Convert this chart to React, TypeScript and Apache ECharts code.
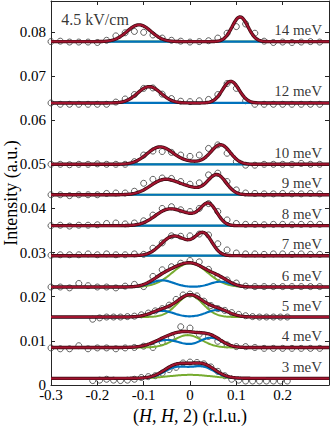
import React, { useEffect, useRef } from "react";
import * as echarts from "echarts";

// ---------- data ----------
const energyLabels = ["14 meV", "12 meV", "10 meV", "9 meV", "8 meV", "7 meV", "6 meV", "5 meV", "4 meV", "3 meV"];
const baselines = [0.0778, 0.0639, 0.05, 0.0431, 0.0361, 0.0293, 0.0222, 0.0154, 0.0085, 0.0015];
const fieldLabel = "4.5 kV/cm";

const xMain = [-0.3, -0.28, -0.26, -0.24, -0.22, -0.2, -0.18, -0.16, -0.14, -0.12, -0.1, -0.08, -0.06, -0.04, -0.02, 0, 0.02, 0.04, 0.06, 0.08, 0.1, 0.12, 0.14, 0.16, 0.18, 0.2, 0.22, 0.24, 0.26, 0.28];
const xLow = [-0.21, -0.195, -0.18, -0.165, -0.15, -0.135, -0.12, -0.105, -0.09, -0.075, -0.06, -0.045, -0.03, -0.015, 0, 0.015, 0.03, 0.045, 0.06, 0.075, 0.09, 0.105, 0.12, 0.135, 0.15, 0.165, 0.18, 0.195, 0.21];

// measured points, signal above each row's offset, in units of 1e-3
const pts14 = [0, 0.1, -0.1, -0.1, -0.1, -0.2, 0.3, 1.3, 2.0, 2.3, 2.1, 1.5, 0.8, 0.3, 0.1, -0.1, 0, 0.2, 0.8, 1.9, 3.4, 4.0, 1.9, 0.1, -0.2, -0.1, -0.2, -0.1, 0, -0.1];
const pts12 = [0, -0.3, -0.3, -0.3, -0.3, -0.3, -0.3, 0.2, 0.9, 1.9, 3.3, 3.4, 2.0, 1.0, 0.4, 0.3, 0.5, 0.8, 1.9, 4.4, 3.3, 0.5, -0.3, -0.3, -0.3, -0.3, -0.3, -0.3, -0.3, -0.3];
const pts10 = [0, 0, -0.1, 0, 0, 0.1, 0, 0, 0, 0.6, 2.1, 3.0, 2.9, 2.7, 2.1, 1.8, 2.1, 3.6, 4.4, 2.5, 0.6, -0.2, -0.2, 0, 0, 0, 0, 0.2, 0, 0];
const pts9 = [0, 0, -0.2, 0, 0, 0, 0.3, 0.4, 0.4, 0.8, 2.6, 3.5, 3.8, 3.7, 3.0, 2.4, 2.7, 4.5, 4.9, 3.0, 1.1, 0.4, 0.3, 0.2, 0.2, 0.3, 0.2, 0.2, 0.3, 0.2];
const pts8 = [0, 0.1, -0.1, 0.1, 0.1, 0.2, 0.5, 0.6, 0.4, 0.6, 1.1, 2.4, 3.9, 4.3, 3.6, 3.2, 3.9, 5.0, 3.2, 1.3, 0.5, 0.3, 0.3, 0.2, 0.3, 0.3, 0.2, 0.3, 0.3, 0.3];
const pts7 = [0.1, 0.2, 0.2, 0.2, 0.4, 0.2, 0.4, 0.2, 0.2, 0.4, 0.3, 1.7, 2.9, 4.5, 4.4, 4.5, 4.9, 4.7, 2.7, 1.3, 0.6, 0.4, 0.4, 0.3, 0.4, 0.4, 0.3, 0.4, 0.3, 0.3];
const pts6 = [0, 0, -0.2, 0.8, 0.3, 0, 0, -0.2, 0.2, 0.6, 0.1, 2.4, 3.9, 4.6, 5.4, 6.0, 5.7, 4.0, 2.3, 1.6, 0.9, 0.2, 0.1, 0.1, 0.1, 0.1, 0.1, 0.1, 0.1, 0.1];
const pts5 = [-0.5, -0.2, 0, 0, 0, 0.1, 0.2, 0.5, 0.9, 1.4, 1.9, 2.7, 4.0, 5.0, 5.2, 4.8, 3.6, 2.6, 1.9, 1.5, 1.0, 0.6, 0.3, 0.1, 0, 0, 0, 0, 0];
const pts4 = [-0.1, -0.3, -0.3, 0.4, -0.3, -0.1, -0.1, -0.3, -0.1, 0, 0.3, 0, 1.2, 2.3, 4.7, 4.4, 3.0, 2.5, 1.4, 0.6, 0.2, 0.2, 0, -0.2, -0.2, -0.2, -0.2, -0.2, -0.2, -0.2];
const pts3 = [-0.5, -0.4, -0.2, -0.4, -0.5, -0.4, -0.2, 0.2, 0.4, 0.6, 1.2, 2.0, 2.5, 3.5, 3.7, 3.6, 3.3, 2.6, 1.6, 0.6, -0.2, -0.4, -0.6, -0.6, -0.6, -0.6, -0.6, -0.6, -0.6];

// Gaussian fit components: [centre, amplitude, sigma]
const fit14 = [[-0.11, 0.0038, 0.026], [0.108, 0.0056, 0.017]];
const fit12 = [[-0.088, 0.0037, 0.025], [0.088, 0.0049, 0.018]];
const fit10 = [[-0.065, 0.0039, 0.028], [0.0, 0.0005, 0.03], [0.066, 0.0044, 0.021]];
const fit9 = [[-0.055, 0.0034, 0.03], [0.0, 0.0012, 0.025], [0.058, 0.0045, 0.02]];
const fit8 = [[-0.045, 0.0037, 0.03], [0.0, 0.0012, 0.02], [0.04, 0.0049, 0.018]];
const fit7 = [[-0.04, 0.0038, 0.025], [-0.005, 0.0015, 0.025], [0.03, 0.0046, 0.018]];
const blue6 = [[-0.06, 0.0015, 0.025], [0.065, 0.0012, 0.022]];
const green6 = [[0.0, 0.0054, 0.038]];
const blue5 = [[-0.06, 0.0014, 0.025], [0.06, 0.0016, 0.025]];
const green5 = [[0.0, 0.0049, 0.028]];
const blue4 = [[-0.05, 0.0017, 0.03], [0.045, 0.0022, 0.024]];
const green4 = [[-0.005, 0.0028, 0.03]];
const blue3 = [[-0.03, 0.0024, 0.026], [0.028, 0.0025, 0.026]];
const green3 = [[0.0, 0.0008, 0.045]];

const xTicks = [-0.3, -0.2, -0.1, 0, 0.1, 0.2];
const yTicks = [0, 0.01, 0.02, 0.03, 0.04, 0.05, 0.06, 0.07, 0.08];

type Peak = number[];
const rows: { pts: number[]; xs: number[]; other: Peak[]; blue: Peak[]; green: Peak[] }[] = [
  { pts: pts14, xs: xMain, other: fit14, blue: [], green: [] },
  { pts: pts12, xs: xMain, other: fit12, blue: [], green: [] },
  { pts: pts10, xs: xMain, other: fit10, blue: [], green: [] },
  { pts: pts9, xs: xMain, other: fit9, blue: [], green: [] },
  { pts: pts8, xs: xMain, other: fit8, blue: [], green: [] },
  { pts: pts7, xs: xMain, other: fit7, blue: [], green: [] },
  { pts: pts6, xs: xMain, other: [], blue: blue6, green: green6 },
  { pts: pts5, xs: xLow, other: [], blue: blue5, green: green5 },
  { pts: pts4, xs: xMain, other: [], blue: blue4, green: green4 },
  { pts: pts3, xs: xLow, other: [], blue: blue3, green: green3 },
];

const FONT = "Liberation Serif, DejaVu Serif, serif";
const RED = "#A2142F";
const BLUE = "#0072BD";
const GREEN = "#77AC30";

const gauss = (x: number, peaks: Peak[]) =>
  peaks.reduce((s, p) => s + p[1] * Math.exp(-0.5 * ((x - p[0]) / p[2]) ** 2), 0);

function buildOption() {
  const grid: number[] = [];
  for (let i = 0; i <= 240; i++) grid.push(-0.3 + (0.6 * i) / 240);

  const series: any[] = [];
  rows.forEach((r, i) => {
    const b = baselines[i];
    const all = [...r.other, ...r.blue, ...r.green];
    const curve = (pk: Peak[]) => grid.map((x) => [x, b + gauss(x, pk)]);
    const lineBase = { type: "line", showSymbol: false, symbol: "none", silent: true, smooth: false };
    series.push({ ...lineBase, name: `green ${energyLabels[i]}`, data: curve(r.green), lineStyle: { color: GREEN, width: 2 } });
    series.push({ ...lineBase, name: `blue ${energyLabels[i]}`, data: curve(r.blue), lineStyle: { color: BLUE, width: 2.2 } });
    series.push({ ...lineBase, name: `fitedge ${energyLabels[i]}`, data: curve(all), lineStyle: { color: "#3d0810", width: 3.4 } });
    series.push({ ...lineBase, name: `fit ${energyLabels[i]}`, data: curve(all), lineStyle: { color: RED, width: 2 } });
    series.push({
      type: "scatter",
      name: `data ${energyLabels[i]}`,
      data: r.xs.map((x, k) => [x, b + r.pts[k] / 1000]),
      symbol: "circle",
      symbolSize: 6,
      silent: true,
      itemStyle: { color: "rgba(0,0,0,0)", borderColor: "#3a3a3a", borderWidth: 1 },
    });
  });

  series.push({
    type: "scatter",
    name: "labels",
    silent: true,
    symbolSize: 0.1,
    itemStyle: { color: "rgba(0,0,0,0)" },
    data: [
      ...energyLabels.map((t, i) => ({
        value: [0.285, baselines[i] + 0.0026],
        label: { formatter: t },
      })),
      { value: [-0.132, 0.0828], label: { formatter: fieldLabel, fontSize: 16 } },
    ],
    label: {
      show: true,
      position: "inside",
      align: "right",
      verticalAlign: "middle",
      color: "#000",
      fontSize: 15,
      fontFamily: FONT,
    },
  });

  const axisCommon = {
    axisLine: { show: true, onZero: false, lineStyle: { color: "#262626", width: 1 } },
    axisTick: { show: true, inside: true, length: 4, lineStyle: { color: "#262626", width: 1 } },
    splitLine: { show: false },
  };

  return {
    animation: false,
    backgroundColor: "#fff",
    grid: { left: 51, right: 3, top: 1, bottom: 42, containLabel: false, outerBoundsMode: "none" },
    xAxis: [
      {
        type: "value",
        min: -0.3,
        max: 0.3,
        interval: 0.1,
        ...axisCommon,
        axisLabel: {
          margin: 5,
          lineHeight: 10,
          color: "#000",
          fontSize: 15,
          fontFamily: FONT,
          showMaxLabel: false,
          formatter: (v: number) => {
            const t = xTicks.find((q) => Math.abs(q - v) < 1e-9);
            if (t === undefined) return "";
            return Math.abs(t) < 1e-9 ? "0" : t.toFixed(1);
          },
        },
        name: "({i|H}, {i|H}, 2) (r.l.u.)",
        nameLocation: "middle",
        nameGap: 22,
        nameTextStyle: {
          color: "#000",
          fontSize: 18,
          fontFamily: FONT,
          rich: { i: { fontStyle: "italic", fontSize: 18, fontFamily: FONT, color: "#000" } },
        },
      },
      {
        type: "value",
        position: "top",
        min: -0.3,
        max: 0.3,
        interval: 0.1,
        ...axisCommon,
        axisLabel: { show: false },
      },
    ],
    yAxis: [
      {
        type: "value",
        min: 0,
        max: 0.087,
        interval: 0.01,
        ...axisCommon,
        axisLabel: {
          margin: 5,
          lineHeight: 8,
          color: "#000",
          fontSize: 15,
          fontFamily: FONT,
          showMaxLabel: false,
          formatter: (v: number) => {
            const t = yTicks.find((q) => Math.abs(q - v) < 1e-9);
            if (t === undefined) return "";
            return t === 0 ? "0" : t.toFixed(2);
          },
        },
        name: "Intensity (a.u.)",
        nameLocation: "middle",
        nameGap: 31,
        nameMoveOverlap: false,
        nameTextStyle: { color: "#000", fontSize: 18, lineHeight: 18, fontFamily: FONT },
      },
      {
        type: "value",
        position: "right",
        min: 0,
        max: 0.087,
        interval: 0.01,
        ...axisCommon,
        axisLabel: { show: false },
      },
    ],
    series,
  };
}

export default function App() {
  const ref = useRef<HTMLDivElement>(null);
  useEffect(() => {
    if (!ref.current) return;
    const chart = echarts.init(ref.current, undefined, { renderer: "svg" });
    chart.setOption(buildOption() as any);
    return () => chart.dispose();
  }, []);
  return (
    <div
      ref={ref}
      style={{ position: "fixed", left: 0, top: 0, width: 332, height: 427, background: "#fff" }}
    />
  );
}
